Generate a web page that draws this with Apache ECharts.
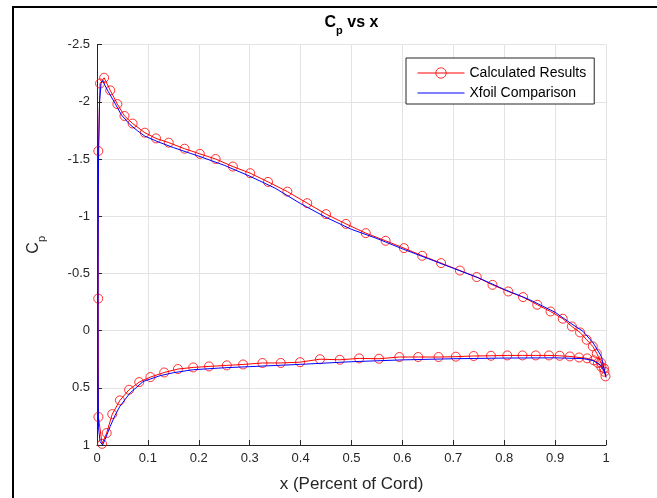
<!DOCTYPE html>
<html>
<head>
<meta charset="utf-8">
<script src="https://cdn.jsdelivr.net/npm/echarts@6/dist/echarts.min.js"></script>
<style>
  html, body { margin: 0; padding: 0; background: #fff; }
  #chart { width: 657px; height: 498px; }
</style>
</head>
<body>
<div id="chart"></div>
<script>
// Panel-method pressure coefficients, leading edge -> trailing edge
const calcUpperX  = [0.0026, 0.006, 0.014, 0.026, 0.040, 0.054, 0.070, 0.094, 0.116, 0.141, 0.172, 0.202, 0.233, 0.267, 0.301, 0.336, 0.374, 0.413, 0.450, 0.489, 0.528, 0.567, 0.603, 0.639, 0.676, 0.713, 0.746, 0.777, 0.808, 0.837, 0.865, 0.891, 0.915, 0.933, 0.949, 0.962, 0.974, 0.982, 0.990, 0.996, 0.999];
const calcUpperCp = [-1.57, -2.16, -2.21, -2.10, -1.98, -1.876, -1.81, -1.73, -1.68, -1.643, -1.59, -1.545, -1.50, -1.434, -1.376, -1.30, -1.215, -1.114, -1.018, -0.933, -0.852, -0.785, -0.721, -0.654, -0.59, -0.525, -0.468, -0.40, -0.342, -0.293, -0.226, -0.167, -0.104, -0.036, 0.016, 0.08, 0.138, 0.20, 0.28, 0.33, 0.40];
const calcLowerX  = [0.0024, 0.0028, 0.010, 0.019, 0.030, 0.045, 0.063, 0.083, 0.105, 0.132, 0.159, 0.189, 0.220, 0.255, 0.287, 0.325, 0.361, 0.399, 0.438, 0.477, 0.515, 0.554, 0.594, 0.631, 0.671, 0.705, 0.740, 0.774, 0.806, 0.836, 0.862, 0.888, 0.909, 0.929, 0.947, 0.963, 0.976, 0.984, 0.991, 0.997];
const calcLowerCp = [-0.28, 0.755, 0.99, 0.895, 0.73, 0.61, 0.517, 0.45, 0.406, 0.366, 0.336, 0.322, 0.313, 0.304, 0.296, 0.283, 0.283, 0.276, 0.25, 0.255, 0.243, 0.246, 0.231, 0.231, 0.231, 0.228, 0.222, 0.22, 0.217, 0.217, 0.217, 0.217, 0.22, 0.226, 0.235, 0.243, 0.26, 0.283, 0.318, 0.36];

// Xfoil reference distribution, leading edge -> trailing edge
const xfoilUpperX  = [0.002, 0.002, 0.003, 0.005, 0.008, 0.011, 0.016, 0.022, 0.035, 0.048, 0.065, 0.080, 0.094, 0.120, 0.150, 0.183, 0.200, 0.250, 0.300, 0.350, 0.400, 0.450, 0.500, 0.550, 0.600, 0.650, 0.700, 0.750, 0.800, 0.850, 0.900, 0.930, 0.955, 0.975, 0.991, 1.000];
const xfoilUpperCp = [0.30, -0.50, -1.50, -2.00, -2.16, -2.185, -2.14, -2.09, -1.99, -1.885, -1.80, -1.745, -1.70, -1.65, -1.60, -1.55, -1.525, -1.445, -1.35, -1.245, -1.11, -0.99, -0.885, -0.805, -0.715, -0.63, -0.545, -0.46, -0.36, -0.27, -0.16, -0.066, 0.007, 0.109, 0.226, 0.41];
const xfoilLowerX  = [0.003, 0.006, 0.011, 0.016, 0.026, 0.035, 0.045, 0.065, 0.091, 0.124, 0.150, 0.189, 0.250, 0.300, 0.350, 0.400, 0.500, 0.600, 0.700, 0.800, 0.900, 0.955, 0.975, 0.991, 1.000];
const xfoilLowerCp = [0.85, 0.97, 1.00, 0.95, 0.837, 0.745, 0.662, 0.545, 0.444, 0.394, 0.368, 0.342, 0.325, 0.315, 0.305, 0.295, 0.272, 0.256, 0.246, 0.24, 0.238, 0.245, 0.262, 0.307, 0.39];

// Axis ticks
const xTicks = [0, 0.1, 0.2, 0.3, 0.4, 0.5, 0.6, 0.7, 0.8, 0.9, 1];
const yTicks = [-2.5, -2, -1.5, -1, -0.5, 0, 0.5, 1];

// Walk around the airfoil: upper trailing edge -> leading edge -> lower trailing edge
function loop(ux, uy, lx, ly) {
  const pts = [];
  for (let i = ux.length - 1; i >= 0; i--) pts.push([ux[i], uy[i]]);
  for (let i = 0; i < lx.length; i++) pts.push([lx[i], ly[i]]);
  return pts;
}
const calcData  = loop(calcUpperX, calcUpperCp, calcLowerX, calcLowerCp);
const xfoilData = loop(xfoilUpperX, xfoilUpperCp, xfoilLowerX, xfoilLowerCp);

const FONT = '"Liberation Sans", Arial, Helvetica, sans-serif';
const INK = '#262626';
const GRID = '#e3e3e3';
const RED = '#ff0000';
const BLUE = '#0000ff';

const titleRich = {
  c: { fontFamily: FONT, fontSize: 16, fontWeight: 'bold', color: '#000' },
  p: { fontFamily: FONT, fontSize: 11, fontWeight: 'bold', color: '#000', padding: [15, 0, 0, 0] }
};
const labelRich = {
  c: { fontFamily: FONT, fontSize: 16, color: INK },
  p: { fontFamily: FONT, fontSize: 11, color: INK, padding: [15, 0, 0, 0] }
};

const chart = echarts.init(document.getElementById('chart'), null, { renderer: 'canvas' });
chart.setOption({
  animation: false,
  backgroundColor: '#fff',
  graphic: [
    {
      type: 'polyline',
      silent: true,
      shape: { points: [[13, 498], [13, 7], [657, 7]] },
      style: { stroke: '#000', lineWidth: 2, fill: null }
    },
    {
      type: 'text',
      silent: true,
      x: 351.5,
      y: 23,
      style: {
        text: '{c|C}{p|p}{c| vs x}',
        rich: titleRich,
        align: 'center',
        verticalAlign: 'middle'
      }
    }
  ],
  grid: { left: 97, right: 51, top: 44.6, bottom: 53, containLabel: false },
  legend: {
    orient: 'vertical',
    left: 406,
    top: 58,
    padding: [8, 8, 4, 11],
    itemGap: 6,
    itemWidth: 47,
    itemHeight: 13,
    symbolKeepAspect: true,
    backgroundColor: '#fff',
    borderColor: INK,
    borderWidth: 1,
    borderRadius: 0,
    lineStyle: { width: 1 },
    itemStyle: { borderWidth: 1 },
    textStyle: { fontFamily: FONT, fontSize: 14, color: '#000' },
    data: [
      { name: 'Calculated Results' },
      { name: 'Xfoil Comparison', icon: 'path://M0,0L47,0L47,1L0,1Z' }
    ]
  },
  xAxis: {
    type: 'value',
    min: xTicks[0],
    max: xTicks[xTicks.length - 1],
    interval: 0.1,
    name: 'x (Percent of Cord)',
    nameLocation: 'middle',
    nameGap: 31,
    nameTextStyle: { fontFamily: FONT, fontSize: 17, color: INK },
    axisLine: { show: true, onZero: false, lineStyle: { color: INK, width: 1 } },
    axisTick: { show: true, inside: true, length: 5, lineStyle: { color: INK } },
    axisLabel: { fontFamily: FONT, fontSize: 13, color: INK, margin: 7 },
    splitLine: { show: true, lineStyle: { color: GRID, width: 1 } }
  },
  yAxis: {
    type: 'value',
    inverse: true,
    min: yTicks[0],
    max: yTicks[yTicks.length - 1],
    interval: 0.5,
    name: '{c|C}{p|p}',
    nameLocation: 'middle',
    nameRotate: 90,
    nameGap: 50,
    nameTextStyle: { rich: labelRich },
    axisLine: { show: true, onZero: false, lineStyle: { color: INK, width: 1 } },
    axisTick: { show: true, inside: true, length: 5, lineStyle: { color: INK } },
    axisLabel: { fontFamily: FONT, fontSize: 13, color: INK, margin: 7 },
    splitLine: { show: true, lineStyle: { color: GRID, width: 1 } }
  },
  series: [
    {
      name: 'Calculated Results',
      type: 'line',
      data: calcData,
      symbol: 'circle',
      symbolSize: 9,
      showAllSymbol: true,
      lineStyle: { color: RED, width: 1 },
      itemStyle: { color: 'rgba(255,255,255,0)', borderColor: 'rgba(255,0,0,0.8)', borderWidth: 1 },
      z: 2
    },
    {
      name: 'Xfoil Comparison',
      type: 'line',
      data: xfoilData,
      symbol: 'none',
      lineStyle: { color: BLUE, width: 1 },
      itemStyle: { color: BLUE },
      z: 3
    }
  ]
});
</script>
</body>
</html>
